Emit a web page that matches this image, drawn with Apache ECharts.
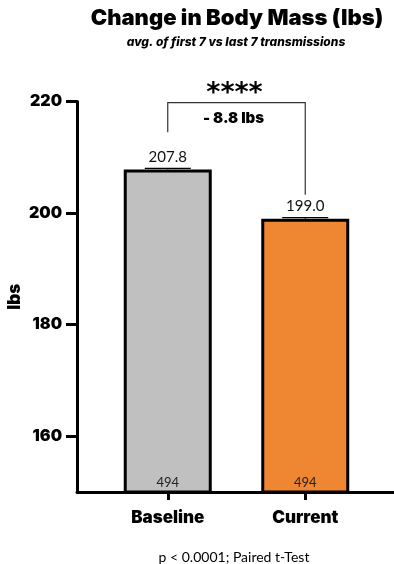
<!DOCTYPE html>
<html>
<head>
<meta charset="utf-8">
<script src="https://cdn.jsdelivr.net/npm/echarts@6/dist/echarts.min.js"></script>
<style>
  html, body { margin: 0; padding: 0; background: #fff; }
  #chart { width: 394px; height: 564px; }
</style>
</head>
<body>
<div id="chart"></div>
<script>
// Group names, means, standard errors and sample counts
const categories = ['Baseline', 'Current'];
const means = [207.8, 199.0];
const sems = [0.2, 0.2];
const counts = [494, 494];
const yTicks = [160, 180, 200, 220];
const barColors = ['#c0c0c0', '#ef8631'];

// Significance bracket, in data units (lbs)
const bracketTop = 219.8;
const bracketLegs = [214.5, 203.3];
const starsText = '****';

const FONT = 'Lato';
const HEAVY = 'Inter';
const diff = (means[1] - means[0]);
const diffText = (diff < 0 ? '- ' : '+ ') + Math.abs(diff).toFixed(1) + ' lbs';

const chart = echarts.init(document.getElementById('chart'), null, { renderer: 'canvas' });

const option = {
  animation: false,
  backgroundColor: '#fff',
  textStyle: { fontFamily: FONT },
  title: [
    {
      text: 'Change in Body Mass (lbs)',
      left: 232, top: 2, padding: 5, textAlign: 'center',
      textStyle: { fontFamily: HEAVY, fontWeight: 900, fontSize: 22, color: '#000' }
    },
    {
      text: 'avg. of first 7 vs last 7 transmissions',
      left: 231, top: 31, padding: 5, textAlign: 'center',
      textStyle: { fontFamily: HEAVY, fontWeight: 800, fontStyle: 'italic', fontSize: 12, color: '#000' }
    },
    {
      text: 'p < 0.0001; Paired t-Test',
      left: 229, top: 545, padding: 5, textAlign: 'center',
      textStyle: { fontFamily: FONT, fontWeight: 'normal', fontSize: 14, color: '#000' }
    }
  ],
  grid: { left: 77, right: -2, top: 101.5, bottom: 72, containLabel: false, outerBoundsMode: 'none' },
  xAxis: {
    type: 'value',
    min: -0.66,
    max: 1.66,
    splitLine: { show: false },
    axisLine: { show: true, onZero: false, lineStyle: { color: '#000', width: 3 } },
    axisTick: { show: true, customValues: [0, 1], length: 8, lineStyle: { color: '#000', width: 3 } },
    axisLabel: {
      customValues: [0, 1],
      formatter: v => categories[Math.round(v)],
      margin: 17,
      fontFamily: HEAVY, fontWeight: 900, fontSize: 17, color: '#000'
    }
  },
  yAxis: {
    type: 'value',
    min: 150,
    max: 220,
    name: 'lbs',
    nameLocation: 'middle',
    nameGap: 54,
    nameMoveOverlap: false,
    nameRotate: 90,
    nameTextStyle: { fontFamily: HEAVY, fontWeight: 900, fontSize: 17, color: '#000' },
    splitLine: { show: false },
    axisLine: { show: true, onZero: false, lineStyle: { color: '#000', width: 3 } },
    axisTick: { show: true, customValues: yTicks, length: 11, lineStyle: { color: '#000', width: 3 } },
    axisLabel: {
      customValues: yTicks,
      margin: 15,
      fontFamily: HEAVY, fontWeight: 900, fontSize: 16, color: '#000'
    }
  },
  series: [
    {
      type: 'bar',
      barWidth: 88,
      data: means.map((m, i) => ({
        value: [i, m],
        itemStyle: { color: barColors[i], borderColor: '#000', borderWidth: 3 }
      })),
      label: {
        show: true,
        position: 'insideBottom',
        distance: 4,
        formatter: p => String(counts[p.dataIndex]),
        fontFamily: FONT, fontSize: 13, color: '#222'
      },
      z: 2
    },
    {
      // SEM caps and the mean labels above them
      type: 'custom',
      data: means.map((m, i) => [i, m, sems[i]]),
      clip: false,
      z: 3,
      renderItem: (params, api) => {
        const x = api.value(0), m = api.value(1), s = api.value(2);
        const top = api.coord([x, m + s]);
        const base = api.coord([x, m]);
        const half = 23;
        return {
          type: 'group',
          children: [
            { type: 'line', shape: { x1: top[0], y1: base[1], x2: top[0], y2: top[1] },
              style: { stroke: '#000', lineWidth: 1.2 } },
            { type: 'line', shape: { x1: top[0] - half, y1: top[1], x2: top[0] + half, y2: top[1] },
              style: { stroke: '#000', lineWidth: 1.2 } },
            { type: 'text', x: top[0], y: top[1] - 4,
              style: { text: m.toFixed(1), align: 'center', verticalAlign: 'bottom',
                       font: '15px ' + FONT, fill: '#111' } }
          ]
        };
      }
    },
    {
      // Significance bracket between the two groups
      type: 'custom',
      data: [[0, 1]],
      clip: false,
      z: 3,
      renderItem: (params, api) => {
        const l = api.value(0), r = api.value(1);
        const pl = api.coord([l, bracketLegs[0]]);
        const pr = api.coord([r, bracketLegs[1]]);
        const tl = api.coord([l, bracketTop]);
        const tr = api.coord([r, bracketTop]);
        const cx = (tl[0] + tr[0]) / 2;
        return {
          type: 'group',
          children: [
            { type: 'polyline',
              shape: { points: [[pl[0], pl[1]], [tl[0], tl[1]], [tr[0], tr[1]], [pr[0], pr[1]]] },
              style: { stroke: '#333', lineWidth: 1.2, fill: null } },
            { type: 'text', x: cx - 2, y: tl[1] - 9,
              style: { text: starsText, align: 'center', verticalAlign: 'middle',
                       font: 'bold 27px "DejaVu Sans"', fill: '#000' } },
            { type: 'text', x: cx - 3, y: tl[1] + 16,
              style: { text: diffText, align: 'center', verticalAlign: 'middle',
                       font: '900 15px ' + HEAVY, fill: '#000' } }
          ]
        };
      }
    }
  ]
};

chart.setOption(option);
</script>
</body>
</html>
